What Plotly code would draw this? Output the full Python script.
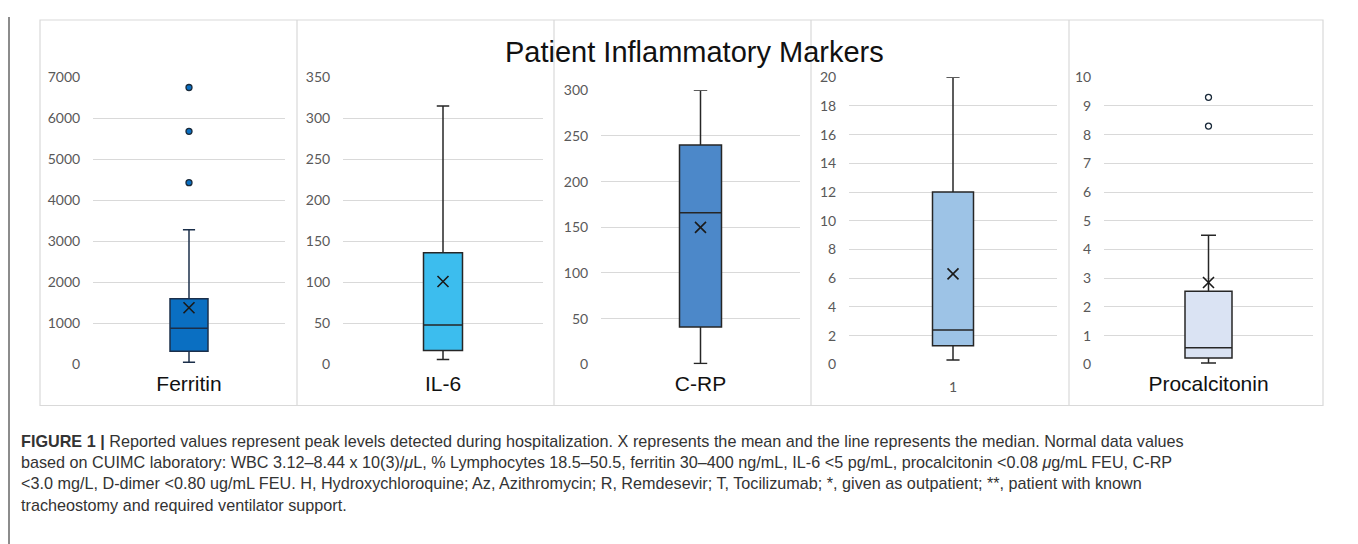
import plotly.graph_objects as go

# ---------------- data ----------------
categories = ["Ferritin", "IL-6", "C-RP", "1", "Procalcitonin"]
lower_whisker = [50, 6, 1, 0.3, 0.05]
q1_values = [320, 17, 41, 1.3, 0.22]
median_values = [880, 48, 166, 2.4, 0.58]
q3_values = [1600, 136, 240, 12.0, 2.55]
upper_whisker = [3280, 315, 300, 20, 4.5]
mean_values = [1380, 101, 150, 6.3, 2.85]
outlier_values = [[4430, 5680, 6750], [], [], [], [8.3, 9.3]]
y_axis_max = [7000, 350, 300, 20, 10]
y_axis_step = [1000, 50, 50, 2, 1]

title_text = "Patient Inflammatory Markers"
caption_lines = [
    "<b>FIGURE 1 |</b> Reported values represent peak levels detected during hospitalization. X represents the mean and the line represents the median. Normal data values",
    "based on CUIMC laboratory: WBC 3.12–8.44 x 10(3)/<i>μ</i>L, % Lymphocytes 18.5–50.5, ferritin 30–400 ng/mL, IL-6 &lt;5 pg/mL, procalcitonin &lt;0.08 <i>μ</i>g/mL FEU, C-RP",
    "&lt;3.0 mg/L, D-dimer &lt;0.80 ug/mL FEU. H, Hydroxychloroquine; Az, Azithromycin; R, Remdesevir; T, Tocilizumab; *, given as outpatient; **, patient with known",
    "tracheostomy and required ventilator support.",
]

# ---------------- styling / layout ----------------
W, H = 1350, 544
OX, OY, SY = 8, 17, 0.965   # observed placement of the figure in the photographed page

fill_colors = ["#0A6FC2", "#3CBDEE", "#4C88C9", "#9DC3E6", "#DAE3F3"]
box_line_colors = ["#1B2F4A", "#262626", "#262626", "#262626", "#262626"]
outlier_fill = ["#0A6FC2", None, None, None, "white"]
plot_px_x = [(93, 285), (343, 543), (601, 800), (849, 1057), (1104, 1313)]
plot_px_top = [77, 77, 90, 77, 77]
plot_px_bottom = 363
box_px_width = [38, 39, 42, 41, 47]
big_font = dict(family="Liberation Sans, Arial", size=21, color="#111111")
cat_font = [big_font, big_font, big_font,
            dict(family="Lato, Calibri", size=14, color="#595959"), big_font]
cat_ticklen = [0, 0, 0, 10, 0]

def px2x(p):
    return (p - OX) / W

def px2y(p):
    return 1 - ((p - OY) / SY) / H

fig = go.Figure()
layout_axes = {}
for i, cat in enumerate(categories):
    n = "" if i == 0 else str(i + 1)
    xa, ya = "x" + n, "y" + n
    x0, x1 = plot_px_x[i]
    bw = box_px_width[i] / (x1 - x0)
    fig.add_trace(go.Box(
        x=[cat], q1=[q1_values[i]], median=[median_values[i]], q3=[q3_values[i]],
        lowerfence=[lower_whisker[i]], upperfence=[upper_whisker[i]],
        fillcolor=fill_colors[i], line=dict(color=box_line_colors[i], width=1.5),
        width=bw, whiskerwidth=0.32, boxpoints=False,
        xaxis=xa, yaxis=ya, showlegend=False, hoverinfo="skip",
    ))
    fig.add_trace(go.Scatter(
        x=[cat], y=[mean_values[i]], mode="markers",
        marker=dict(symbol="x-thin", size=11, line=dict(width=1.6, color="#1a1a1a")),
        xaxis=xa, yaxis=ya, showlegend=False, hoverinfo="skip",
    ))
    if outlier_values[i]:
        fig.add_trace(go.Scatter(
            x=[cat] * len(outlier_values[i]), y=outlier_values[i], mode="markers",
            marker=dict(symbol="circle", size=6, color=outlier_fill[i],
                        line=dict(width=1.3, color="#1a2a3a")),
            xaxis=xa, yaxis=ya, showlegend=False, hoverinfo="skip",
        ))
    layout_axes["xaxis" + n] = dict(
        domain=[px2x(x0), px2x(x1)], anchor=ya, type="category", range=[-0.5, 0.5],
        showgrid=False, zeroline=False, showline=False,
        ticks="outside", ticklen=cat_ticklen[i], tickcolor="rgba(0,0,0,0)",
        tickfont=cat_font[i], fixedrange=True,
    )
    layout_axes["yaxis" + n] = dict(
        domain=[px2y(plot_px_bottom), px2y(plot_px_top[i])], anchor=xa,
        range=[0, y_axis_max[i]], dtick=y_axis_step[i], tick0=0,
        showgrid=True, gridcolor="#D9D9D9", gridwidth=1, zeroline=False, showline=False,
        ticks="outside", ticklen=9, tickcolor="rgba(0,0,0,0)",
        tickfont=dict(family="Lato, Calibri", size=14, color="#595959"), fixedrange=True,
    )

shapes = []
shapes.append(dict(type="rect", xref="paper", yref="paper", x0=px2x(40), x1=px2x(1323),
                   y0=px2y(404), y1=px2y(20), line=dict(color="#D9D9D9", width=1.2)))
for xd in [297, 554, 811, 1069]:
    shapes.append(dict(type="line", xref="paper", yref="paper", x0=px2x(xd), x1=px2x(xd),
                       y0=px2y(404), y1=px2y(20), line=dict(color="#D9D9D9", width=1.2)))
# outer frame: left and right edges
for xf in [px2x(8) + 1 / W, px2x(1355)]:
    shapes.append(dict(type="line", xref="paper", yref="paper", x0=xf, x1=xf,
                       y0=0, y1=1, line=dict(color="#666666", width=1.5)))

annotations = [dict(text=title_text, xref="paper", yref="paper", x=px2x(695), y=px2y(52),
                    xanchor="center", yanchor="middle", showarrow=False,
                    font=dict(family="Liberation Sans, Arial", size=29, color="#111111"))]
cap_y = [439, 460, 481, 503]
for line, yy in zip(caption_lines, cap_y):
    annotations.append(dict(text=line, xref="paper", yref="paper", x=px2x(19), y=px2y(yy),
                            xanchor="left", yanchor="middle", showarrow=False, align="left",
                            font=dict(family="Liberation Sans, Arial", size=16.2, color="#333333")))

fig.update_layout(
    width=W, height=H, margin=dict(l=0, r=0, t=0, b=0),
    paper_bgcolor="white", plot_bgcolor="white",
    shapes=shapes, annotations=annotations, **layout_axes,
)

fig.write_html("out.html")
